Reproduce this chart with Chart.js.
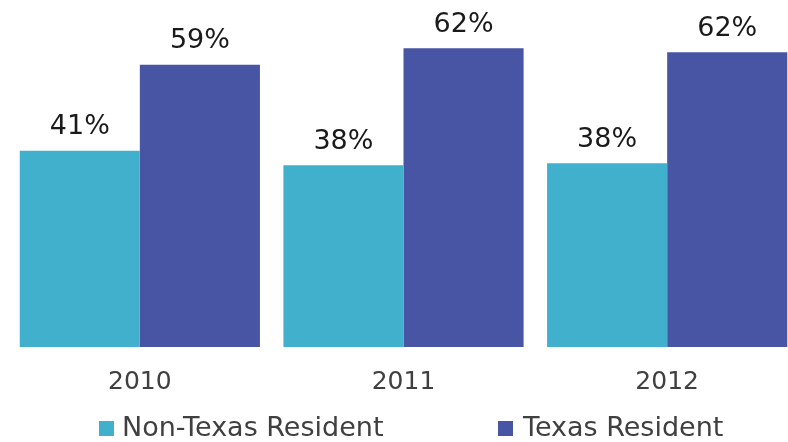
<!DOCTYPE html>
<html>
<head>
<meta charset="utf-8">
<script src="https://cdn.jsdelivr.net/npm/chart.js@4"></script>
<style>
  html, body { margin: 0; padding: 0; background: #fff; overflow: hidden; }
  #wrap { position: relative; width: 800px; height: 442px; }
  #legend { position: absolute; left: 0; top: 0; width: 800px; height: 442px; pointer-events: none;
            font-family: "DejaVu Sans", Verdana, sans-serif; font-size: 27px; color: #404040; }
  .sw { position: absolute; width: 15px; height: 15px; top: 421px; }
  .lt { position: absolute; top: 411px; line-height: 32px; white-space: nowrap; }
</style>
</head>
<body>
<div id="wrap">
  <canvas id="chartCanvas" width="800" height="442"></canvas>
  <div id="legend"></div>
</div>
<script>
// --- data ---
const years = ["2010", "2011", "2012"];
const seriesNames = ["Non-Texas Resident", "Texas Resident"];
const nonTexas = [41, 38, 38.4];
const texas = [59, 62.4, 61.6];
const colors = ["#40B0CC", "#4854A4"];

// --- legend (html, under the plot) ---
const legendPos = [[99, 122], [498, 523]];
const legend = document.getElementById("legend");
seriesNames.forEach((name, i) => {
  const sw = document.createElement("div");
  sw.className = "sw";
  sw.style.left = legendPos[i][0] + "px";
  sw.style.background = colors[i];
  const lt = document.createElement("div");
  lt.className = "lt";
  lt.style.left = legendPos[i][1] + "px";
  lt.textContent = name;
  legend.append(sw, lt);
});

// value labels above each bar
const valueLabels = {
  id: "valueLabels",
  afterDatasetsDraw(chart) {
    const ctx = chart.ctx;
    ctx.save();
    ctx.font = "27px 'DejaVu Sans', Verdana, sans-serif";
    ctx.fillStyle = "#1a1a1a";
    ctx.textAlign = "center";
    ctx.textBaseline = "alphabetic";
    chart.data.datasets.forEach((ds, di) => {
      chart.getDatasetMeta(di).data.forEach((bar, i) => {
        ctx.fillText(Math.round(ds.data[i]) + "%", bar.x, bar.y - 16.5);
      });
    });
    ctx.restore();
  }
};

const canvas = document.getElementById("chartCanvas");
new Chart(canvas, {
  type: "bar",
  data: {
    labels: years,
    datasets: [
      { label: seriesNames[0], data: nonTexas, backgroundColor: colors[0] },
      { label: seriesNames[1], data: texas, backgroundColor: colors[1] }
    ]
  },
  options: {
    responsive: false,
    animation: false,
    layout: { padding: { left: 8, right: 1, top: 12, bottom: 25 } },
    datasets: { bar: { categoryPercentage: 0.911, barPercentage: 1, borderWidth: 0 } },
    plugins: {
      legend: { display: false },
      tooltip: { enabled: false }
    },
    scales: {
      x: {
        grid: { display: false, drawTicks: false },
        border: { display: false },
        ticks: {
          padding: 20,
          color: "#404040",
          font: { family: "'DejaVu Sans', Verdana, sans-serif", size: 25 }
        }
      },
      y: {
        display: false,
        min: 0,
        max: 70
      }
    }
  },
  plugins: [valueLabels]
});
</script>
</body>
</html>
